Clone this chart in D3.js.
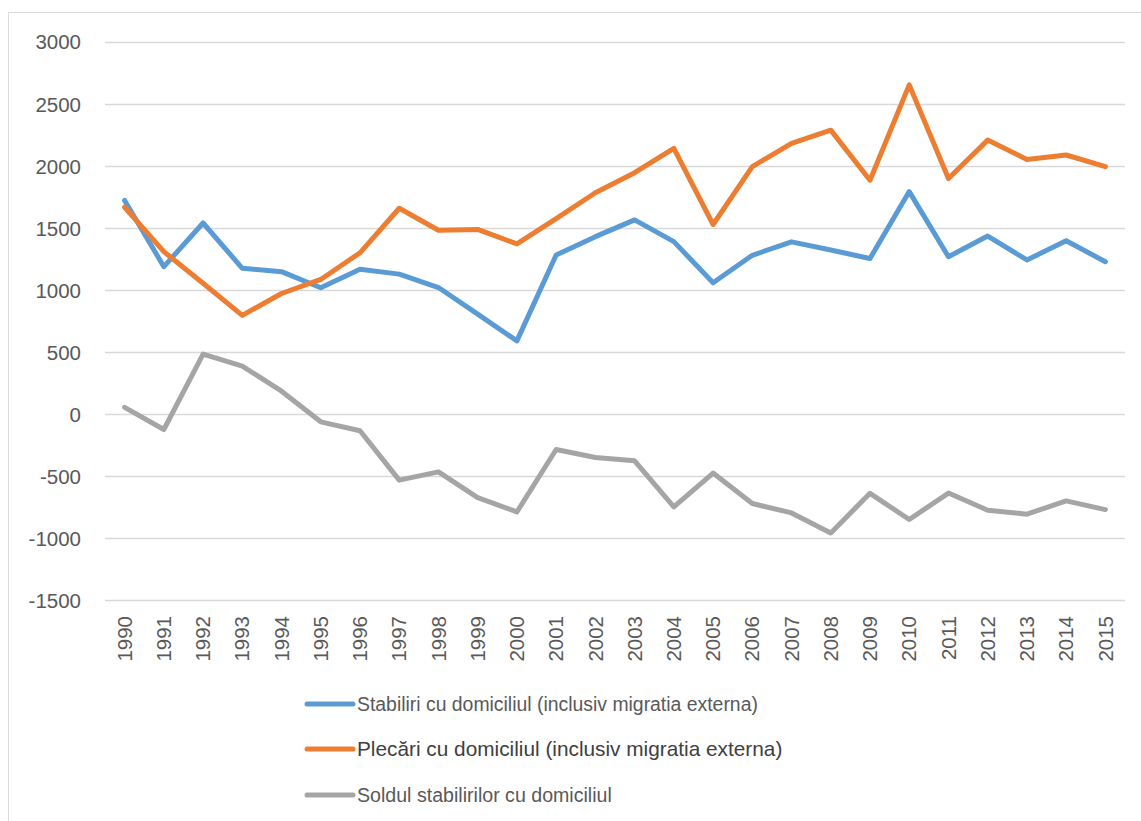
<!DOCTYPE html>
<html>
<head>
<meta charset="utf-8">
<script src="https://cdn.jsdelivr.net/npm/d3@7"></script>
<style>
  html, body { margin: 0; padding: 0; background: #fff; }
  svg { display: block; font-family: "Liberation Sans", Arial, sans-serif; }
</style>
</head>
<body>
<svg id="chart" width="1141" height="821"></svg>
<script>
// years on the category axis
const years = ["1990","1991","1992","1993","1994","1995","1996","1997","1998","1999",
  "2000","2001","2002","2003","2004","2005","2006","2007","2008","2009",
  "2010","2011","2012","2013","2014","2015"];

// Stabiliri cu domiciliul (inclusiv migratia externa)
const stabiliri = [1722, 1188, 1540, 1175, 1148, 1018, 1167, 1128, 1020, 806,
  590, 1282, 1430, 1565, 1390, 1058, 1280, 1388, 1322, 1254,
  1793, 1268, 1435, 1242, 1397, 1228];

// Plecari cu domiciliul (inclusiv migratia externa)
const plecari = [1667, 1309, 1054, 796, 972, 1085, 1300, 1659, 1482, 1488,
  1372, 1576, 1784, 1945, 2142, 1528, 1994, 2182, 2288, 1885,
  2653, 1898, 2208, 2052, 2088, 1994];

// Soldul stabilirilor cu domiciliul
const soldul = [55, -124, 484, 387, 185, -62, -134, -532, -465, -672,
  -788, -285, -349, -376, -747, -475, -720, -796, -957, -638,
  -849, -636, -774, -806, -699, -769];

const yTicks = [-1500, -1000, -500, 0, 500, 1000, 1500, 2000, 2500, 3000];

const series = [
  { name: "Stabiliri cu domiciliul (inclusiv migratia externa)", values: stabiliri, color: "#5B9BD5", size: 19.4 },
  { name: "Plecări cu domiciliul (inclusiv migratia externa)", values: plecari, color: "#ED7D31", size: 20.8 },
  { name: "Soldul stabilirilor cu domiciliul", values: soldul, color: "#A5A5A5", size: 19.6 }
];

const svg = d3.select("#chart");
const textCol = "#595959";

// chart frame (only left and top visible in the picture)
svg.append("rect")
  .attr("x", 8.5).attr("y", 12.5)
  .attr("width", 1200).attr("height", 900)
  .attr("fill", "none").attr("stroke", "#D9D9D9").attr("stroke-width", 1);

const plotLeft = 105, plotRight = 1125;

const x = d3.scaleBand().domain(years).range([plotLeft, plotRight]);
const y = d3.scaleLinear().domain([-1500, 3000]).range([600.3, 41.8]);

// gridlines
svg.append("g")
  .selectAll("line")
  .data(yTicks)
  .join("line")
  .attr("x1", plotLeft).attr("x2", plotRight)
  .attr("y1", d => Math.round(y(d)) + 0.5).attr("y2", d => Math.round(y(d)) + 0.5)
  .attr("stroke", "#D9D9D9").attr("stroke-width", 1.3);

// y axis labels
const yAxis = d3.axisLeft(y).tickValues(yTicks).tickFormat(d => String(d))
  .tickSize(0).tickPadding(0);
const gy = svg.append("g").attr("transform", "translate(81,0)").call(yAxis);
gy.select(".domain").remove();
gy.selectAll("text")
  .attr("fill", textCol)
  .style("font-size", "20.5px")
  .attr("dy", "0.35em");

// x axis labels (rotated)
const xAxis = d3.axisBottom(x).tickSize(0).tickPadding(0);
const gx = svg.append("g").attr("transform", "translate(0,616)").call(xAxis);
gx.select(".domain").remove();
gx.selectAll("text")
  .attr("fill", textCol)
  .style("font-size", "20.5px")
  .attr("transform", "rotate(-90)")
  .attr("text-anchor", "end")
  .attr("x", 0).attr("y", 0)
  .attr("dy", "0.35em");

// lines
const line = d3.line()
  .x((d, i) => x(years[i]) + x.bandwidth() / 2)
  .y(d => y(d));

svg.append("g")
  .selectAll("path")
  .data(series)
  .join("path")
  .attr("d", d => line(d.values))
  .attr("fill", "none")
  .attr("stroke", d => d.color)
  .attr("stroke-width", 5)
  .attr("stroke-linejoin", "round")
  .attr("stroke-linecap", "round");

// legend
const legendY = [704, 749, 795];
const lg = svg.append("g")
  .selectAll("g")
  .data(series)
  .join("g")
  .attr("transform", (d, i) => `translate(307,${legendY[i]})`);

lg.append("line")
  .attr("x1", 0).attr("x2", 46)
  .attr("stroke", d => d.color)
  .attr("stroke-width", 5)
  .attr("stroke-linecap", "round");

lg.append("text")
  .attr("x", 50)
  .attr("dy", "0.35em")
  .attr("fill", (d, i) => i === 1 ? "#404040" : textCol)
  .style("font-size", d => d.size + "px")
  .text(d => d.name);
</script>
</body>
</html>
